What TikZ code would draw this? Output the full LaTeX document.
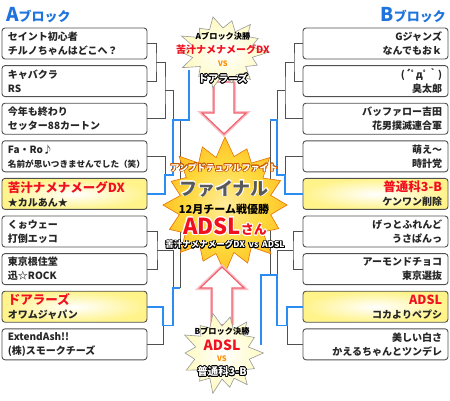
\documentclass[tikz,border=0pt]{standalone}
\usepackage{fontspec}
\setmainfont{Noto Sans CJK JP}
\usepackage{contour}
\contourlength{0.8pt}
\usetikzlibrary{positioning}

\definecolor{borde}{HTML}{505050}
\definecolor{celeste}{HTML}{2B8CF2}
\definecolor{rojo}{HTML}{F01020}
\definecolor{titulo}{HTML}{1E74DC}
\definecolor{amarillo}{HTML}{FFF38A}
\definecolor{crema}{HTML}{FFFBC8}
\definecolor{naranja}{HTML}{FF8C00}
\definecolor{oro}{HTML}{FFD83A}
\definecolor{rosa}{HTML}{F0606E}
\definecolor{marron}{HTML}{C85A00}
\definecolor{gris}{HTML}{999999}

\pgfdeclareradialshading{fuego}{\pgfpoint{0bp}{0bp}}{color(0bp)=(oro!50!white); color(16bp)=(oro); color(34bp)=(naranja!60!oro); color(50bp)=(naranja)}
\pgfdeclareradialshading{luz}{\pgfpoint{0bp}{0bp}}{color(0bp)=(white); color(22bp)=(crema); color(50bp)=(amarillo)}

\newcommand{\tam}[1]{\fontsize{#1}{#1}\selectfont}

\begin{document}
\begin{tikzpicture}[x=1pt, y=-1pt,
    equipo/.style={draw=borde, line width=0.9pt, rounded corners=3pt,
      minimum width=145pt, minimum height=31pt, text width=133pt,
      inner xsep=6pt, inner ysep=2pt, text=black!85,
      font=\bfseries\fontsize{10}{14}\selectfont},
    equipoL/.style={equipo, align=left, fill=white},
    equipoR/.style={equipo, align=right, fill=white},
    ganadorL/.style={equipo, align=left, inner color=white, outer color=amarillo},
    ganadorR/.style={equipo, align=right, inner color=white, outer color=amarillo},
    linea/.style={draw=borde, line width=0.9pt},
    camino/.style={draw=celeste, line width=1.6pt},
    flecha/.style={draw=rosa, line width=1.2pt, fill=white, line join=miter},
    halo/.style={draw=rosa!40, line width=4pt, line join=miter},
    texto/.style={inner sep=0pt, font=\bfseries}]

    % Fondo
    \fill[white] (0,0) rectangle (450,400);
    \useasboundingbox (0,0) rectangle (450,400);

    % Titulos
    \node[texto, anchor=west, text=titulo] (tituloA) at (6,15) {\tam{19}A\tam{13}ブロック};
    \node[texto, anchor=east, text=titulo] (tituloB) at (446,15) {\tam{19}B\tam{13}ブロック};

    % Bloque A
    \node[equipoL] (a1) at (74.5,43.5) {セイント初心者\\チルノちゃんはどこへ？};
    \node[equipoL] (a2) at (74.5,81.1) {キャバクラ\\RS};
    \node[equipoL] (a3) at (74.5,118.7) {今年も終わり\\セッター88カートン};
    \node[equipoL] (a4) at (74.5,156.3) {Fa・Ro♪\\{\tam{8.6}名前が思いつきませんでした（笑）}};
    \node[ganadorL] (a5) at (74.5,193.9) {{\color{rojo}\tam{12.5}苦汁ナメナメーグDX}\\★カルあん★};
    \node[equipoL] (a6) at (74.5,231.5) {くぉウェー\\打倒エッコ};
    \node[equipoL] (a7) at (74.5,269.1) {東京根住堂\\迅☆ROCK};
    \node[ganadorL] (a8) at (74.5,306.7) {{\color{rojo}\tam{12.5}ドアラーズ}\\オワムジャパン};
    \node[equipoL] (a9) at (74.5,344.3) {ExtendAsh!!\\(株)スモークチーズ};

    % Bloque B
    \node[equipoR] (b1) at (375.5,43.5) {Gジャンズ\\なんでもおｋ};
    \node[equipoR] (b2) at (375.5,81.1) {(´ﾟдﾟ｀)\\臭太郎};
    \node[equipoR] (b3) at (375.5,118.7) {バッファロー吉田\\花男撲滅連合軍};
    \node[equipoR] (b4) at (375.5,156.3) {萌え～\\時計党};
    \node[ganadorR] (b5) at (375.5,193.9) {{\color{rojo}\tam{12.5}普通科3-B}\\ケンワン削除};
    \node[equipoR] (b6) at (375.5,231.5) {げっとふれんど\\うさぱんっ};
    \node[equipoR] (b7) at (375.5,269.1) {アーモンドチョコ\\東京選抜};
    \node[ganadorR] (b8) at (375.5,306.7) {{\color{rojo}\tam{12.5}ADSL}\\コカよりペプシ};
    \node[equipoR] (b9) at (375.5,344.3) {美しい白さ\\かえるちゃんとツンデレ};

    % Cruces del bloque A
    \coordinate (ma1) at (156,62.3);
    \coordinate (ma2) at (165,90.5);
    \coordinate (ma3) at (165,175.1);
    \coordinate (ma4) at (173,120);
    \coordinate (ma5) at (157,250.3);
    \coordinate (ma6) at (163,325.5);
    \coordinate (ma7) at (173,287.9);
    \coordinate (na) at (180,287.9);
    \coordinate (fa) at (189,70);

    % Cruces del bloque B
    \coordinate (mb1) at (294,62.3);
    \coordinate (mb2) at (285,90.5);
    \coordinate (mb3) at (285,175.1);
    \coordinate (mb4) at (277,120);
    \coordinate (mb5) at (293,250.3);
    \coordinate (mb6) at (287,325.5);
    \coordinate (mb7) at (277,275);
    \coordinate (nb) at (270,120);
    \coordinate (fb) at (261,345);

    % Lineas grises
    \draw[linea] (a1.east) -| (ma1) |- (a2.east);
    \draw[linea] (ma1) -| (ma2) |- (a3.east);
    \draw[linea] (a4.east) -| (ma3);
    \draw[linea] (ma2) -| (ma4);
    \draw[linea] (a6.east) -| (ma5) |- (a7.east);
    \draw[linea] (a9.east) -| (ma6);
    \draw[linea] (ma5) -| (ma7);
    \draw[linea] (na) -- (na |- ma4);

    \draw[linea] (b1.west) -| (mb1) |- (b2.west);
    \draw[linea] (mb1) -| (mb2) |- (b3.west);
    \draw[linea] (b4.west) -| (mb3);
    \draw[linea] (mb2) -| (mb4);
    \draw[linea] (b6.west) -| (mb5) |- (b7.west);
    \draw[linea] (b9.west) -| (mb6);
    \draw[linea] (mb5) -| (mb7);
    \draw[linea] (nb) -- (nb |- mb7);

    % Caminos de los finalistas
    \draw[camino] (a5.east) -| (ma3) -| (ma4) -| (fa);
    \draw[camino] (a8.east) -| (ma6) -| (ma7) -- (na);
    \draw[camino] (b5.west) -| (mb3) -| (mb4) -- (nb);
    \draw[camino] (b8.west) -| (mb6) -| (mb7) -| (fb);

    % Estrella central
    \begin{scope}[shift={(225,205)}, xscale=0.97, yscale=1.03]
        \shadedraw[shading=fuego, draw=marron!50!naranja, line width=0.6pt]
            (0:64) \foreach \i/\r in {1/48,2/60,3/47,4/67,5/49,6/61,7/47,8/66,9/48,10/59,11/47,12/65,13/49,14/62,15/48,16/64,17/47,18/60,19/48,20/67,21/49,22/61,23/47,24/66,25/48,26/59,27/49,28/65,29/47,30/62,31/48} {-- ({\i*11.25}:\r)} -- cycle;
    \end{scope}

    % Flechas
    \draw[halo] (214,82) -- (214,113) -- (202,113) -- (224,134) -- (246,113) -- (234,113) -- (234,82);
    \draw[flecha] (214,82) -- (214,113) -- (202,113) -- (224,134) -- (246,113) -- (234,113) -- (234,82) -- cycle;
    \draw[halo] (212,325) -- (212,288) -- (200,288) -- (222,267) -- (244,288) -- (232,288) -- (232,325);
    \draw[flecha] (212,325) -- (212,288) -- (200,288) -- (222,267) -- (244,288) -- (232,288) -- (232,325) -- cycle;

    % Estrella de arriba (final A)
    \begin{scope}[shift={(223,52)}, yscale=0.8]
        \shadedraw[shading=luz, draw=gris, line width=0.6pt]
            (0:46) \foreach \i/\r in {1/30,2/38,3/29,4/44,5/31,6/40,7/28,8/46,9/30,10/39,11/29,12/45,13/31,14/42,15/30,16/46,17/29,18/38,19/31,20/45,21/30,22/40,23/28,24/44,25/31,26/39,27/29} {-- ({\i*360/28}:\r)} -- cycle;
    \end{scope}

    % Estrella de abajo (final B)
    \begin{scope}[shift={(222,353)}, scale=0.9]
        \shadedraw[shading=luz, draw=gris, line width=0.6pt]
            (0:46) \foreach \i/\r in {1/31,2/40,3/30,4/45,5/31,6/39,7/29,8/46,9/31,10/40,11/30,12/44,13/31,14/41,15/30,16/46,17/30,18/39,19/31,20/45,21/30,22/41,23/29,24/44,25/31,26/40,27/30} {-- ({\i*360/28}:\r)} -- cycle;
    \end{scope}

    % Textos de la final A
    \node[texto] (tA1) at (223,36) {\tam{8.2}Aブロック決勝};
    \node[texto, text=rojo] (tA2) at (223,50) {\tam{10}苦汁ナメナメーグDX};
    \node[texto, text=naranja] (tA3) at (223,64) {\tam{7.5}VS};
    \node[texto, text=white] (tA4) at (223,79) {\tam{10}\contour{black}{ドアラーズ}};

    % Textos centrales
    \node[texto, text=white] (lema) at (224,168) {\tam{9}\contour{marron}{アンプドテュアルファイト}};
    \node[texto, text=black!65] (final) at (224,189) {\tam{18}\contour{white}{ファイナル}};
    \node[texto, text=black] (mes) at (224,209) {\tam{11}12月チーム戦優勝};
    \node[texto, text=rojo] (campeon) at (225,227) {\contour{white}{\tam{22}ADSL\tam{13}さん}};
    \node[texto, text=white] (partido) at (225,245) {\tam{8.5}\contour{black}{苦汁ナメナメーグDX\ \ vs\ \ ADSL}};

    % Textos de la final B
    \node[texto] (tB1) at (222,331) {\tam{8.2}Bブロック決勝};
    \node[texto, text=rojo] (tB2) at (222,345) {\tam{14}ADSL};
    \node[texto, text=naranja] (tB3) at (222,359) {\tam{7.5}VS};
    \node[texto, text=white] (tB4) at (222,372) {\tam{10.5}\contour{black}{普通科3-B}};
\end{tikzpicture}
\end{document}
